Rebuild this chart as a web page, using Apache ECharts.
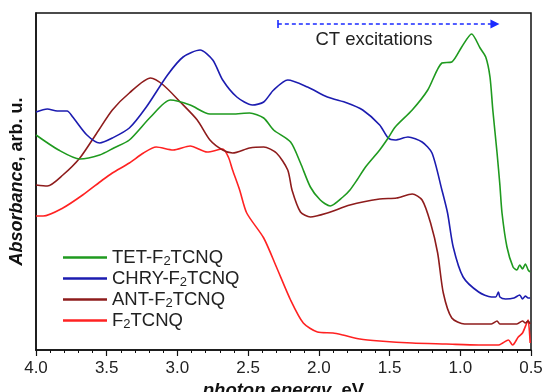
<!DOCTYPE html>
<html>
<head>
<meta charset="utf-8">
<script src="https://cdn.jsdelivr.net/npm/echarts@6/dist/echarts.min.js"></script>
<style>
  html, body { margin: 0; padding: 0; background: #fff; }
  #main { width: 544px; height: 392px; }
</style>
</head>
<body>
<div id="main"></div>
<script>
// photon energy (eV) and absorbance (arb. u.)
var tetE = [4.00, 3.84, 3.69, 3.55, 3.45, 3.34, 3.19, 3.05, 2.91, 2.77, 2.61, 2.49, 2.39, 2.32, 2.20, 2.13, 2.06, 1.99, 1.92, 1.83, 1.78, 1.73, 1.67, 1.57, 1.51, 1.46, 1.34, 1.23, 1.13, 1.06, 0.99, 0.92, 0.86, 0.82, 0.79, 0.77, 0.74, 0.72, 0.705, 0.67, 0.627, 0.60, 0.58, 0.56, 0.54, 0.52, 0.506]
var tetA = [2.15, 2.00, 1.91, 1.95, 2.02, 2.10, 2.33, 2.50, 2.45, 2.36, 2.36, 2.37, 2.32, 2.20, 2.08, 1.87, 1.63, 1.50, 1.44, 1.53, 1.60, 1.70, 1.83, 2.00, 2.12, 2.23, 2.40, 2.60, 2.87, 2.88, 3.03, 3.16, 3.02, 2.93, 2.73, 2.40, 1.97, 1.65, 1.37, 1.03, 0.83, 0.80, 0.85, 0.81, 0.86, 0.80, 0.78]

var chryE = [4.00, 3.92, 3.85, 3.78, 3.74, 3.64, 3.55, 3.46, 3.34, 3.22, 3.07, 2.96, 2.84, 2.75, 2.68, 2.58, 2.47, 2.39, 2.32, 2.22, 2.08, 1.94, 1.80, 1.69, 1.57, 1.51, 1.46, 1.37, 1.27, 1.20, 1.13, 1.09, 1.05, 0.98, 0.87, 0.78, 0.75, 0.73, 0.72, 0.68, 0.62, 0.58, 0.56, 0.54, 0.52, 0.506]
var chryA = [2.38, 2.41, 2.39, 2.39, 2.33, 2.15, 2.07, 2.12, 2.22, 2.43, 2.75, 2.93, 3.00, 2.90, 2.70, 2.53, 2.45, 2.48, 2.60, 2.70, 2.63, 2.53, 2.47, 2.40, 2.25, 2.12, 2.10, 2.13, 2.08, 1.97, 1.60, 1.37, 1.03, 0.73, 0.58, 0.53, 0.53, 0.58, 0.53, 0.51, 0.52, 0.55, 0.51, 0.54, 0.52, 0.52]

var antE = [4.00, 3.92, 3.81, 3.69, 3.57, 3.46, 3.34, 3.19, 3.10, 2.98, 2.86, 2.77, 2.68, 2.61, 2.49, 2.39, 2.30, 2.22, 2.19, 2.13, 2.06, 1.94, 1.78, 1.57, 1.45, 1.34, 1.27, 1.21, 1.16, 1.12, 1.06, 0.97, 0.78, 0.74, 0.72, 0.60, 0.56, 0.54, 0.52, 0.506]
var antA = [1.65, 1.64, 1.75, 1.92, 2.17, 2.40, 2.57, 2.72, 2.65, 2.48, 2.30, 2.10, 2.00, 1.97, 2.02, 2.03, 1.97, 1.80, 1.60, 1.38, 1.33, 1.37, 1.45, 1.51, 1.52, 1.56, 1.50, 1.27, 0.97, 0.57, 0.32, 0.26, 0.26, 0.29, 0.26, 0.26, 0.29, 0.27, 0.29, 0.26]

var f2E = [4.00, 3.95, 3.81, 3.67, 3.53, 3.46, 3.34, 3.24, 3.15, 3.03, 2.91, 2.79, 2.68, 2.64, 2.61, 2.56, 2.51, 2.39, 2.30, 2.20, 2.11, 2.01, 1.90, 1.83, 1.71, 1.57, 1.34, 1.10, 0.87, 0.73, 0.70, 0.66, 0.63, 0.59, 0.56, 0.53, 0.52, 0.506]
var f2A = [1.34, 1.34, 1.42, 1.55, 1.70, 1.77, 1.87, 1.97, 2.03, 2.00, 2.04, 1.98, 2.01, 1.93, 1.80, 1.60, 1.37, 1.12, 0.83, 0.50, 0.27, 0.18, 0.17, 0.15, 0.11, 0.09, 0.07, 0.06, 0.05, 0.05, 0.07, 0.10, 0.05, 0.13, 0.17, 0.27, 0.30, 0.07]

var names = ['TET-F2TCNQ', 'CHRY-F2TCNQ', 'ANT-F2TCNQ', 'F2TCNQ']
var colors = ['#1f9a1f', '#1c1cb0', '#8e1c1c', '#ff2222']
var xTicks = [4.0, 3.5, 3.0, 2.5, 2.0, 1.5, 1.0, 0.5]

// CT excitations arrow (eV range) and its label
var ctFrom = 2.29, ctTo = 0.755, ctLevel = 3.26
var ctLabelAt = [1.61, 3.10]

function pairs (xs, ys) {
    var out = []
    for (var i = 0; i < xs.length; i++) out.push([xs[i], ys[i]])
    return out
}

// "F2" -> F with subscript 2
function subName (n) {
    var parts = n.split('F2')
    var s = ''
    for (var i = 0; i < parts.length; i++) {
        if (i > 0) s += '{n|F}{s|2}'
        if (parts[i]) s += '{n|' + parts[i] + '}'
    }
    return s
}

var font = 'Arial, "Liberation Sans", sans-serif'
var myChart = echarts.init(document.getElementById('main'))

var sets = [[tetE, tetA], [chryE, chryA], [antE, antA], [f2E, f2A]]
var series = []
for (var k = 0; k < sets.length; k++) {
    series.push({
        name: names[k],
        type: 'line',
        data: pairs(sets[k][0], sets[k][1]),
        smooth: 0.25,
        showSymbol: false,
        lineStyle: { color: colors[k], width: 1.6 },
        itemStyle: { color: colors[k] },
        z: 10 - k
    })
}
// arrow + label
series[0].markLine = {
    silent: true,
    animation: false,
    symbol: ['none', 'triangle'],
    symbolSize: 9,
    label: { show: false },
    data: [
        [{ coord: [ctFrom, ctLevel], lineStyle: { type: [4, 3], color: '#1a2aff', width: 1.6 } },
         { coord: [ctTo, ctLevel] }],
        [{ coord: [ctFrom, ctLevel - 0.04], symbol: 'none', lineStyle: { type: 'solid', color: '#1a2aff', width: 1.6 } },
         { coord: [ctFrom, ctLevel + 0.04], symbol: 'none' }]
    ]
}
series[0].markPoint = {
    silent: true,
    animation: false,
    symbolSize: 0,
    label: { show: true, formatter: 'CT excitations', color: '#222', fontSize: 18.5, fontFamily: font },
    data: [{ coord: ctLabelAt }]
}

var option = {
    animation: false,
    grid: {
        left: 36, right: 13, top: 13, bottom: 42,
        containLabel: false,
        outerBoundsMode: 'none',
        show: true, borderColor: '#111', borderWidth: 1.5
    },
    legend: {
        left: 63,
        top: 248,
        padding: 0,
        orient: 'vertical',
        icon: 'rect',
        itemWidth: 44,
        itemHeight: 2.5,
        itemGap: 1.5,
        data: names,
        formatter: subName,
        textStyle: {
            fontFamily: font,
            color: '#222',
            rich: {
                n: { fontSize: 18.5, fontFamily: font, color: '#222', lineHeight: 20 },
                s: { fontSize: 13, fontFamily: font, color: '#222', verticalAlign: 'bottom', lineHeight: 10 }
            }
        }
    },
    xAxis: {
        type: 'value',
        inverse: true,
        min: 0.5,
        max: 4.0,
        interval: 0.5,
        name: '{i|photon energy}{b|, eV}',
        nameLocation: 'middle',
        nameGap: 22,
        nameTextStyle: {
            rich: {
                i: { fontSize: 18.5, fontWeight: 'bold', fontStyle: 'italic', fontFamily: font, color: '#111' },
                b: { fontSize: 18.5, fontWeight: 'bold', fontFamily: font, color: '#111' }
            }
        },
        axisLine: { show: true, lineStyle: { color: '#111', width: 1.5 } },
        axisTick: { show: true, length: 6, lineStyle: { color: '#111', width: 1.2 } },
        minorTick: { show: true, splitNumber: 5, length: 3, lineStyle: { color: '#111', width: 1 } },
        splitLine: { show: false },
        axisLabel: {
            margin: 10,
            fontSize: 17,
            fontFamily: font,
            color: '#222',
            formatter: function (v) { return xTicks.indexOf(v) >= 0 ? v.toFixed(1) : '' }
        }
    },
    yAxis: {
        type: 'value',
        min: 0,
        max: 3.37,
        name: '{i|Absorbance}{b|, arb. u.}',
        nameLocation: 'middle',
        nameGap: 10,
        nameTextStyle: {
            rich: {
                i: { fontSize: 18, fontWeight: 'bold', fontStyle: 'italic', fontFamily: font, color: '#111' },
                b: { fontSize: 18, fontWeight: 'bold', fontFamily: font, color: '#111' }
            }
        },
        axisLine: { show: true, lineStyle: { color: '#111', width: 1.5 } },
        axisTick: { show: false },
        axisLabel: { show: false },
        splitLine: { show: false }
    },
    series: series
}

myChart.setOption(option)
window.onresize = myChart.resize
</script>
</body>
</html>
